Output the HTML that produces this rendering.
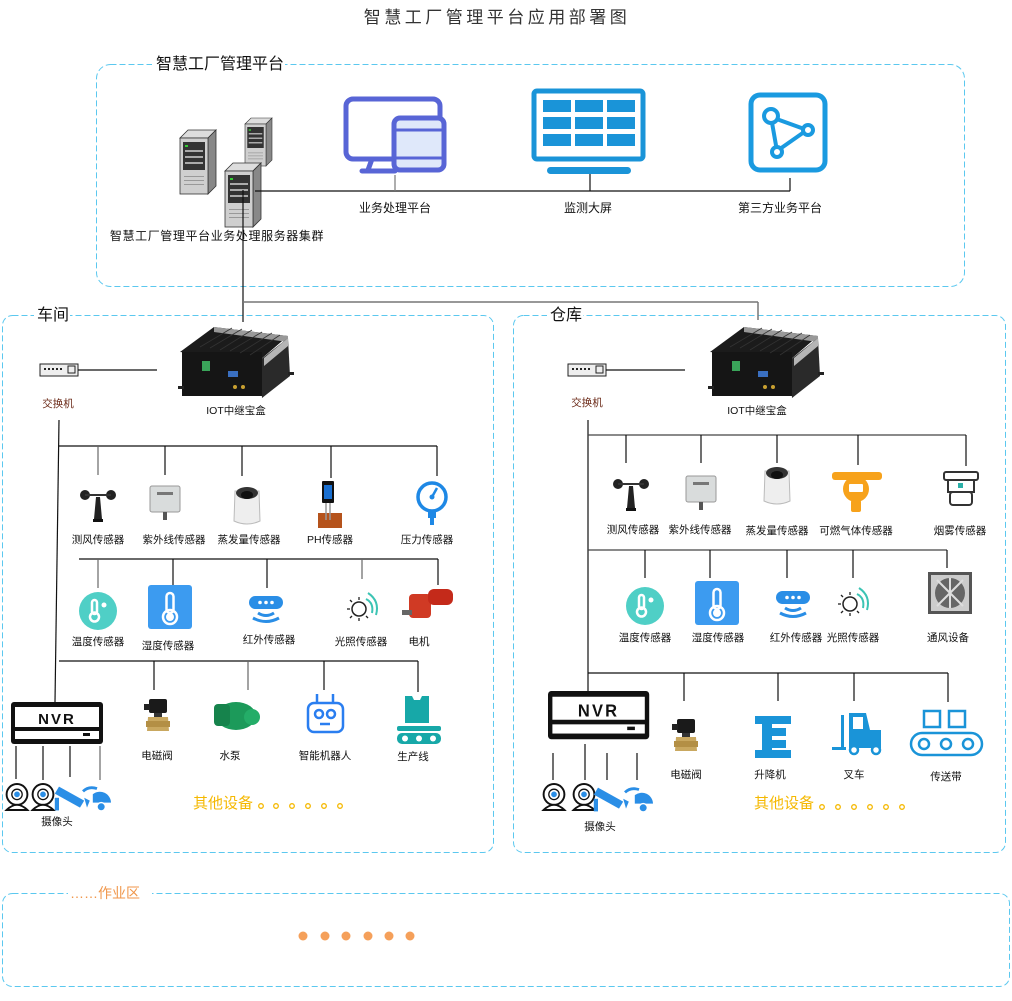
<!DOCTYPE html>
<html><head><meta charset="utf-8">
<style>
html,body{margin:0;padding:0;background:#fff;}
svg{display:block;}
text{font-family:"Liberation Sans","Noto Sans CJK SC",sans-serif;}
</style></head>
<body>
<svg width="1012" height="1001" viewBox="0 0 1012 1001" xmlns="http://www.w3.org/2000/svg">
<defs>
  <g id="wind">
    <circle cx="-13" cy="-8" r="5" fill="#222"/><circle cx="13" cy="-8" r="5" fill="#222"/>
    <line x1="-13" y1="-8" x2="13" y2="-8" stroke="#333" stroke-width="2"/>
    <path d="M-2,-6 L2,-6 L4,16 L-4,16 Z" fill="#222"/>
    <rect x="-5" y="16" width="10" height="3" fill="#111"/>
  </g>
  <g id="uv">
    <rect x="-15" y="-14" width="30" height="26" rx="2" fill="#d9dcdc" stroke="#999"/>
    <rect x="-8" y="-8" width="16" height="3" fill="#777"/>
    <rect x="-2" y="12" width="4" height="8" fill="#555"/>
  </g>
  <g id="evap">
    <path d="M-12,-14 L12,-14 L13,16 Q0,22 -13,16 Z" fill="#eee" stroke="#bbb"/>
    <ellipse cx="0" cy="-12" rx="11" ry="6" fill="#333"/>
    <ellipse cx="0" cy="-10" rx="6" ry="4" fill="#111"/>
  </g>
  <g id="temp">
    <circle cx="0" cy="0" r="19" fill="#4fcfc6"/>
    <rect x="-6" y="-11" width="5" height="14" rx="2.5" fill="none" stroke="#fff" stroke-width="2.5"/>
    <circle cx="-3.5" cy="6" r="4.5" fill="none" stroke="#fff" stroke-width="2.5"/>
    <circle cx="6" cy="-6" r="2.5" fill="#fff"/>
  </g>
  <g id="hum">
    <rect x="-22" y="-22" width="44" height="44" rx="3" fill="#3c9bf0"/>
    <rect x="-3.5" y="-14" width="7" height="20" rx="3.5" fill="none" stroke="#fff" stroke-width="2.5"/>
    <circle cx="0" cy="10" r="7" fill="none" stroke="#fff" stroke-width="2.5"/>
    <circle cx="0" cy="10" r="4" fill="#fff"/>
  </g>
  <g id="ir">
    <rect x="-17" y="-13" width="34" height="13" rx="6.5" fill="#2a8ee6"/>
    <circle cx="-6" cy="-6.5" r="1.8" fill="#fff"/><circle cx="0" cy="-6.5" r="1.8" fill="#fff"/><circle cx="6" cy="-6.5" r="1.8" fill="#fff"/>
    <path d="M-8,4 Q0,9 8,4" fill="none" stroke="#2a8ee6" stroke-width="3"/>
    <path d="M-13,9 Q0,16 13,9" fill="none" stroke="#2a8ee6" stroke-width="3"/>
  </g>
  <g id="light">
    <circle cx="-3" cy="2" r="7" fill="none" stroke="#222" stroke-width="1.5"/>
    <g stroke="#222" stroke-width="1.3"><line x1="-3" y1="-10" x2="-3" y2="-7"/><line x1="-3" y1="11" x2="-3" y2="14"/><line x1="-15" y1="2" x2="-12" y2="2"/><line x1="-12" y1="-7" x2="-10" y2="-5"/><line x1="-12" y1="11" x2="-10" y2="9"/><line x1="6" y1="11" x2="4" y2="9"/></g>
    <path d="M4,-8 Q12,-4 10,6" fill="none" stroke="#3cc4b4" stroke-width="2"/>
    <path d="M6,-14 Q18,-6 14,8" fill="none" stroke="#3cc4b4" stroke-width="2"/>
  </g>
  <g id="nvr">
    <rect x="0" y="0" width="92" height="42" rx="3" fill="#111"/>
    <rect x="4" y="5" width="84" height="20" fill="#fff"/>
    <rect x="4" y="29" width="84" height="8" fill="#fff"/>
    <rect x="72" y="31" width="7" height="3" fill="#111"/>
    <text x="46" y="22" text-anchor="middle" font-size="15" font-weight="bold" fill="#111" letter-spacing="2">NVR</text>
  </g>
  <g id="cam1"><g transform="scale(1.3)">
    <circle cx="0" cy="-2" r="8" fill="#fff" stroke="#111" stroke-width="1.5"/>
    <circle cx="0" cy="-2" r="4" fill="#fff" stroke="#111"/>
    <circle cx="0" cy="-2" r="2.2" fill="#2a8ee6"/>
    <path d="M-8,10 Q0,2 8,10 Z" fill="#fff" stroke="#111" stroke-width="1.5"/>
  </g></g>
  <g id="cam2"><g transform="scale(1.4)">
    <path d="M-10,-6 L8,4 L5,9 L-13,-1 Z" fill="#2a8ee6"/>
    <rect x="-13" y="2" width="3" height="9" fill="#2a8ee6"/>
    <path d="M8,2 L12,4 L10,9 Z" fill="#2a8ee6"/>
  </g></g>
  <g id="cam3"><g transform="scale(1.4)">
    <path d="M-10,-4 Q-6,-8 0,-6" fill="none" stroke="#2a8ee6" stroke-width="2"/>
    <path d="M-3,-2 A8,8 0 0 1 10,4 L-3,4 Z" fill="#2a8ee6"/>
    <circle cx="3" cy="7" r="3" fill="#2a8ee6" stroke="#fff"/>
  </g></g>
  <g id="valve">
    <rect x="-9" y="-18" width="18" height="14" rx="2" fill="#1a1a1a"/>
    <rect x="-14" y="-13" width="6" height="6" fill="#222"/>
    <rect x="-4" y="-4" width="8" height="4" fill="#333"/>
    <path d="M-10,0 L10,0 L11,14 L-11,14 Z" fill="#c9a860"/>
    <rect x="-12" y="4" width="24" height="6" fill="#b38f45"/>
  </g>
  <g id="iot">
    <path d="M0,28 L34,3 L108,12 L80,36 Z" fill="#1b1b1b"/>
    <path d="M34,3 L108,12 L108,18 L34,8 Z" fill="#999"/>
    <path d="M80,36 L108,14 L110,52 L82,74 Z" fill="#2a2a2a"/>
    <path d="M84,34 L108,14 L108,22 L84,42 Z" fill="#b5b5b5"/>
    <rect x="2" y="28" width="80" height="44" fill="#151515"/>
    <rect x="22" y="37" width="8" height="10" fill="#3aa55a"/>
    <rect x="48" y="47" width="10" height="6" fill="#3a6fc0"/>
    <circle cx="55" cy="63" r="2" fill="#c9a030"/><circle cx="63" cy="63" r="2" fill="#c9a030"/>
    <rect x="-2" y="62" width="6" height="3" fill="#222"/><rect x="108" y="48" width="6" height="3" fill="#222"/>
    <g stroke="#333" stroke-width="0.8"><line x1="20" y1="23" x2="52" y2="4"/><line x1="30" y1="24" x2="62" y2="5"/><line x1="40" y1="26" x2="72" y2="6"/><line x1="50" y1="27" x2="82" y2="8"/><line x1="60" y1="29" x2="92" y2="9"/><line x1="70" y1="31" x2="100" y2="11"/></g>
  </g>
  <g id="switch">
    <rect x="0" y="0" width="38" height="12" fill="#eee" stroke="#222"/>
    <g fill="#222"><rect x="4" y="4" width="2" height="2"/><rect x="8" y="4" width="2" height="2"/><rect x="12" y="4" width="2" height="2"/><rect x="16" y="4" width="2" height="2"/><rect x="20" y="4" width="2" height="2"/></g>
    <rect x="28" y="2" width="7" height="7" fill="none" stroke="#222"/>
  </g>
  <g id="server">
    <path d="M0,8 L8,0 L36,0 L28,8 Z" fill="#ddd" stroke="#333" stroke-width="0.8"/>
    <path d="M28,8 L36,0 L36,56 L28,64 Z" fill="#888" stroke="#333" stroke-width="0.8"/>
    <rect x="0" y="8" width="28" height="56" fill="#cfcfcf" stroke="#333" stroke-width="0.8"/>
    <rect x="3" y="12" width="22" height="28" fill="#333"/>
    <g fill="#aaa"><rect x="5" y="20" width="18" height="2"/><rect x="5" y="26" width="18" height="2"/><rect x="5" y="32" width="18" height="2"/></g>
    <rect x="5" y="15" width="3" height="2" fill="#3c3"/>
    <g fill="#999"><rect x="4" y="46" width="20" height="1"/><rect x="4" y="50" width="20" height="1"/><rect x="4" y="54" width="20" height="1"/></g>
  </g>
</defs>

<text x="497" y="23" text-anchor="middle" font-size="17" fill="#333" letter-spacing="3.5">智慧工厂管理平台应用部署图</text>

<g fill="none" stroke="#5bc8ef" stroke-width="1" stroke-dasharray="6,3">
  <rect x="96.5" y="64.5" width="868" height="222" rx="14"/>
  <rect x="2.5" y="315.5" width="491" height="537" rx="10"/>
  <rect x="513.5" y="315.5" width="492" height="537" rx="10"/>
  <rect x="2.5" y="893.5" width="1007" height="93" rx="10"/>
</g>
<rect x="152" y="54" width="133" height="20" fill="#fff"/>
<text x="156" y="69" font-size="16" fill="#111">智慧工厂管理平台</text>
<rect x="34" y="305" width="36" height="20" fill="#fff"/>
<text x="37" y="320" font-size="16" fill="#111">车间</text>
<rect x="547" y="305" width="36" height="20" fill="#fff"/>
<text x="550" y="320" font-size="16" fill="#111">仓库</text>
<rect x="68" y="884" width="84" height="18" fill="#fff"/>
<text x="70" y="898" font-size="14" fill="#f0964a">……作业区</text>
<g fill="#f5a05a"><circle cx="303" cy="936" r="4.5"/><circle cx="325" cy="936" r="4.5"/><circle cx="346" cy="936" r="4.5"/><circle cx="368" cy="936" r="4.5"/><circle cx="389" cy="936" r="4.5"/><circle cx="410" cy="936" r="4.5"/></g>

<use href="#server" x="180" y="130"/>
<use href="#server" x="245" y="118" transform="translate(245,118) scale(0.75) translate(-245,-118)"/>
<use href="#server" x="225" y="163"/>
<g stroke="#111" stroke-width="1.2" fill="none">
  <line x1="255" y1="191" x2="790" y2="191"/>
  <line x1="395" y1="175" x2="395" y2="191" stroke="#777"/>
  <line x1="590" y1="174" x2="590" y2="191"/>
  <line x1="790" y1="178" x2="790" y2="191"/>
  <line x1="243" y1="190" x2="243" y2="322"/>
</g>
<g stroke="#777" stroke-width="1.5"><line x1="243" y1="302" x2="758" y2="302"/><line x1="758" y1="302" x2="758" y2="320"/></g>
<rect x="346" y="99" width="94" height="60" rx="7" fill="none" stroke="#5865d6" stroke-width="5"/>
<path d="M372,159 L368,170 M362,171 L395,171" stroke="#5865d6" stroke-width="5" stroke-linecap="round"/>
<rect x="394" y="118" width="50" height="52" rx="6" fill="#dfe8fa" stroke="#5865d6" stroke-width="5"/>
<line x1="394" y1="130" x2="444" y2="130" stroke="#5865d6" stroke-width="3"/>
<line x1="394" y1="158" x2="444" y2="158" stroke="#5865d6" stroke-width="3"/>
<rect x="534" y="91" width="109" height="68" rx="3" fill="none" stroke="#1a94d8" stroke-width="5"/>
<g fill="#1a94d8"><rect x="543" y="100" width="28" height="12"/><rect x="575" y="100" width="28" height="12"/><rect x="607" y="100" width="28" height="12"/><rect x="543" y="117" width="28" height="12"/><rect x="575" y="117" width="28" height="12"/><rect x="607" y="117" width="28" height="12"/><rect x="543" y="134" width="28" height="12"/><rect x="575" y="134" width="28" height="12"/><rect x="607" y="134" width="28" height="12"/></g>
<rect x="547" y="167" width="84" height="7" rx="3.5" fill="#1a94d8"/>
<rect x="751" y="95" width="74" height="75" rx="9" fill="none" stroke="#1a9ae0" stroke-width="5"/>
<g fill="none" stroke="#1a9ae0" stroke-width="4"><line x1="771" y1="117" x2="807" y2="130"/><line x1="771" y1="117" x2="777" y2="151"/><line x1="807" y1="130" x2="777" y2="151"/></g>
<circle cx="771" cy="116" r="7" fill="#fff" stroke="#1a9ae0" stroke-width="4"/>
<circle cx="808" cy="130" r="5" fill="#fff" stroke="#1a9ae0" stroke-width="4"/>
<circle cx="777" cy="152" r="5" fill="#fff" stroke="#1a9ae0" stroke-width="4"/>
<g font-size="12" fill="#111" text-anchor="middle">
  <text x="395" y="212">业务处理平台</text>
  <text x="588" y="212">监测大屏</text>
  <text x="780" y="212">第三方业务平台</text>
  <text x="217" y="240" letter-spacing="0.6">智慧工厂管理平台业务处理服务器集群</text>
</g>

<!-- 车间 -->
<use href="#iot" x="180" y="324"/>
<use href="#switch" x="40" y="364"/>
<g stroke="#111" stroke-width="1.2" fill="none">
  <line x1="78" y1="370" x2="157" y2="370"/>
  <line x1="59" y1="420" x2="55" y2="702"/>
  <line x1="59" y1="446" x2="437" y2="446"/>
  <line x1="98" y1="446" x2="98" y2="475" stroke="#666"/><line x1="165" y1="446" x2="165" y2="475"/><line x1="242" y1="446" x2="242" y2="476"/><line x1="331" y1="446" x2="331" y2="478"/><line x1="437" y1="446" x2="437" y2="476"/>
  <line x1="79" y1="559" x2="438" y2="559"/>
  <line x1="98" y1="559" x2="98" y2="588" stroke="#666"/><line x1="173" y1="559" x2="173" y2="590"/><line x1="267" y1="559" x2="267" y2="588"/><line x1="362" y1="559" x2="362" y2="579" stroke="#666"/><line x1="438" y1="559" x2="438" y2="585"/>
  <line x1="59" y1="661" x2="418" y2="661"/>
  <line x1="154" y1="661" x2="154" y2="690"/><line x1="248" y1="661" x2="248" y2="690" stroke="#666"/><line x1="324" y1="661" x2="324" y2="690"/><line x1="418" y1="661" x2="418" y2="692"/>
  <line x1="16" y1="746" x2="16" y2="779"/><line x1="43" y1="746" x2="43" y2="780"/><line x1="70" y1="746" x2="70" y2="777"/><line x1="100" y1="746" x2="100" y2="780" stroke="#666"/>
</g>
<use href="#wind" x="98" y="503"/>
<use href="#uv" x="165" y="500"/>
<use href="#evap" x="247" y="505"/>
<g><rect x="322" y="481" width="12" height="22" rx="1" fill="#111"/><rect x="324" y="485" width="8" height="14" fill="#1a6fd0"/><rect x="318" y="513" width="24" height="15" fill="#b5531c"/><line x1="326" y1="503" x2="326" y2="520" stroke="#999" stroke-width="1.5"/><line x1="330" y1="503" x2="330" y2="520" stroke="#999" stroke-width="1.5"/></g>
<g><circle cx="432" cy="497" r="14" fill="#fff" stroke="#1e88e5" stroke-width="3.5"/><line x1="432" y1="497" x2="437" y2="488" stroke="#1e88e5" stroke-width="2.5"/><circle cx="432" cy="497" r="2.5" fill="#1e88e5"/><rect x="428" y="511" width="8" height="7" fill="#1e88e5"/><rect x="430" y="517" width="4" height="8" fill="#1e88e5"/></g>
<use href="#temp" x="98" y="611"/>
<use href="#hum" x="170" y="607"/>
<use href="#ir" x="266" y="609"/>
<use href="#light" x="362" y="607"/>
<g><rect x="409" y="594" width="22" height="24" rx="4" fill="#d03a24"/><rect x="428" y="589" width="25" height="16" rx="6" fill="#c42a1a"/><rect x="402" y="610" width="10" height="5" fill="#666"/></g>
<use href="#nvr" x="11" y="702"/>
<use href="#cam1" x="17" y="797"/><use href="#cam1" x="43" y="797"/><use href="#cam2" x="73" y="795"/><use href="#cam3" x="97" y="797"/>
<use href="#valve" x="158" y="717"/>
<g><ellipse cx="236" cy="716" rx="20" ry="14" fill="#1c9a5a"/><rect x="214" y="704" width="16" height="22" rx="4" fill="#16834c"/><circle cx="252" cy="717" r="8" fill="#24ad68"/></g>
<g fill="none" stroke="#2a7ef0" stroke-width="2.5"><rect x="308" y="703" width="35" height="29" rx="6"/><line x1="317" y1="694" x2="317" y2="703"/><line x1="333" y1="694" x2="333" y2="703"/><circle cx="319" cy="714" r="4"/><circle cx="331" cy="714" r="4"/><line x1="320" y1="724" x2="330" y2="724"/></g>
<g fill="#17a8a8"><path d="M405,696 L412,696 L414,700 L420,700 L422,696 L429,696 L429,723 L405,723 Z"/><rect x="397" y="726" width="44" height="5" rx="2"/><rect x="397" y="733" width="44" height="11" rx="5"/></g>
<g fill="#fff"><circle cx="405" cy="738.5" r="3"/><circle cx="419" cy="738.5" r="3"/><circle cx="433" cy="738.5" r="3"/></g>
<g font-size="10.5" fill="#111" text-anchor="middle">
  <text x="236" y="414">IOT中继宝盒</text>
  <text x="58" y="407" fill="#6b2a18">交换机</text>
  <text x="98" y="543">测风传感器</text><text x="174" y="543">紫外线传感器</text><text x="249" y="543">蒸发量传感器</text><text x="330" y="543">PH传感器</text><text x="427" y="543">压力传感器</text>
  <text x="98" y="645">温度传感器</text><text x="168" y="649">湿度传感器</text><text x="269" y="643">红外传感器</text><text x="361" y="645">光照传感器</text><text x="419" y="645">电机</text>
  <text x="157" y="759">电磁阀</text><text x="230" y="759">水泵</text><text x="325" y="759">智能机器人</text><text x="413" y="760">生产线</text>
  <text x="57" y="825">摄像头</text>
</g>
<text x="193" y="808" font-size="15" fill="#f5b800">其他设备</text>
<g fill="none" stroke="#f5b800" stroke-width="1.3"><circle cx="261" cy="806" r="2.3"/><circle cx="276" cy="806" r="2.3"/><circle cx="292" cy="806" r="2.3"/><circle cx="308" cy="806" r="2.3"/><circle cx="324" cy="806" r="2.3"/><circle cx="340" cy="806" r="2.3"/></g>

<!-- 仓库 -->
<use href="#iot" x="710" y="324"/>
<use href="#switch" x="568" y="364"/>
<g stroke="#111" stroke-width="1.2" fill="none">
  <line x1="606" y1="370" x2="685" y2="370"/>
  <line x1="588" y1="420" x2="588" y2="692"/>
  <line x1="588" y1="435" x2="966" y2="435" stroke="#444"/>
  <line x1="626" y1="435" x2="626" y2="463"/><line x1="701" y1="435" x2="701" y2="463"/><line x1="777" y1="435" x2="777" y2="463"/><line x1="858" y1="435" x2="858" y2="465"/><line x1="966" y1="435" x2="966" y2="466"/>
  <line x1="588" y1="550" x2="947" y2="550" stroke="#444"/>
  <line x1="645" y1="550" x2="645" y2="578"/><line x1="710" y1="550" x2="710" y2="578"/><line x1="787" y1="550" x2="787" y2="578"/><line x1="853" y1="550" x2="853" y2="578"/><line x1="947" y1="550" x2="947" y2="568"/>
  <line x1="588" y1="673" x2="948" y2="673"/>
  <line x1="684" y1="673" x2="684" y2="701"/><line x1="778" y1="673" x2="778" y2="701"/><line x1="854" y1="673" x2="854" y2="701"/><line x1="948" y1="673" x2="948" y2="702"/>
  <line x1="553" y1="753" x2="553" y2="780"/><line x1="585" y1="744" x2="585" y2="780"/><line x1="607" y1="753" x2="607" y2="780"/><line x1="637" y1="753" x2="637" y2="780"/>
</g>
<use href="#wind" x="631" y="492"/>
<use href="#uv" x="701" y="490"/>
<use href="#evap" x="777" y="485"/>
<g fill="#f7a21b"><rect x="832" y="472" width="50" height="8" rx="3"/><circle cx="856" cy="489" r="13"/><rect x="851" y="500" width="10" height="12" rx="2"/></g>
<rect x="849" y="484" width="14" height="8" rx="1" fill="#fff"/>
<g fill="none" stroke="#333" stroke-width="2"><rect x="944" y="472" width="34" height="8" rx="2"/><path d="M948,480 L948,492 L974,492 L974,480"/><rect x="950" y="492" width="22" height="13" rx="3"/></g>
<rect x="958" y="483" width="5" height="5" fill="#2bb0a8"/>
<use href="#temp" x="645" y="606"/>
<use href="#hum" x="717" y="603"/>
<use href="#ir" x="793" y="604"/>
<use href="#light" x="853" y="602"/>
<g><rect x="928" y="572" width="44" height="42" fill="#555"/><rect x="931" y="575" width="38" height="36" fill="#ccc"/><circle cx="950" cy="593" r="15" fill="#666"/><g stroke="#ddd" stroke-width="2"><line x1="937" y1="580" x2="963" y2="606"/><line x1="963" y1="580" x2="937" y2="606"/><line x1="950" y1="578" x2="950" y2="608"/></g></g>
<use href="#nvr" x="548" y="691" transform="translate(548,691) scale(1.1,1.15) translate(-548,-691)"/>
<use href="#cam1" x="554" y="797"/><use href="#cam1" x="584" y="797"/><use href="#cam2" x="612" y="796"/><use href="#cam3" x="639" y="798"/>
<use href="#valve" x="686" y="737"/>
<g fill="#1a94d8"><rect x="755" y="716" width="36" height="8"/><rect x="762" y="724" width="10" height="26"/><rect x="772" y="728" width="14" height="8"/><rect x="772" y="740" width="14" height="8"/><rect x="755" y="750" width="36" height="8"/></g>
<g fill="#1a94d8"><rect x="832" y="747" width="14" height="3"/><rect x="841" y="715" width="3" height="33"/><path d="M849,713 L866,713 L870,730 L881,730 L881,748 L849,748 Z"/></g>
<rect x="853" y="717" width="10" height="12" fill="#fff"/>
<g fill="#fff" stroke="#1a94d8" stroke-width="2.5"><circle cx="854" cy="750" r="4"/><circle cx="876" cy="750" r="4"/></g>
<g fill="none" stroke="#1a94d8" stroke-width="2.5"><rect x="924" y="711" width="16" height="16"/><rect x="949" y="711" width="16" height="16"/><rect x="911" y="733" width="71" height="22" rx="11"/><circle cx="924" cy="744" r="5"/><circle cx="946" cy="744" r="5"/><circle cx="968" cy="744" r="5"/></g>
<g font-size="10.5" fill="#111" text-anchor="middle">
  <text x="757" y="414">IOT中继宝盒</text>
  <text x="587" y="406" fill="#6b2a18">交换机</text>
  <text x="633" y="533">测风传感器</text><text x="700" y="533">紫外线传感器</text><text x="777" y="534">蒸发量传感器</text><text x="856" y="534">可燃气体传感器</text><text x="960" y="534">烟雾传感器</text>
  <text x="645" y="641">温度传感器</text><text x="718" y="641">湿度传感器</text><text x="796" y="641">红外传感器</text><text x="853" y="641">光照传感器</text><text x="948" y="641">通风设备</text>
  <text x="686" y="778">电磁阀</text><text x="770" y="778">升降机</text><text x="854" y="778">叉车</text><text x="946" y="780">传送带</text>
  <text x="600" y="830">摄像头</text>
</g>
<text x="754" y="808" font-size="15" fill="#f5b800">其他设备</text>
<g fill="none" stroke="#f5b800" stroke-width="1.3"><circle cx="822" cy="807" r="2.3"/><circle cx="838" cy="807" r="2.3"/><circle cx="854" cy="807" r="2.3"/><circle cx="870" cy="807" r="2.3"/><circle cx="886" cy="807" r="2.3"/><circle cx="902" cy="807" r="2.3"/></g>
</svg>
</body></html>
